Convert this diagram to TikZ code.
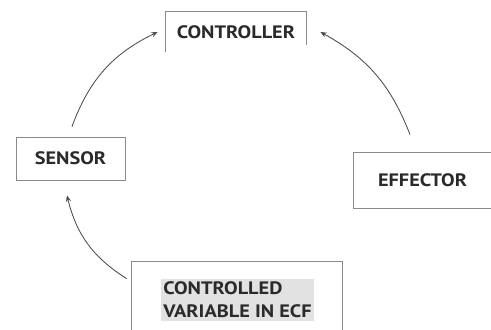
\documentclass[tikz,border=0pt]{standalone}
\usepackage{fontspec}
\setmainfont{PT Sans}[FakeStretch=1.13]
\usetikzlibrary{arrows.meta}
\definecolor{boxgray}{HTML}{8E8888}
\definecolor{txtgray}{HTML}{2A2A2A}
\definecolor{cvshade}{HTML}{E2E2E2}
\tikzset{
  stagebox/.style = {draw=boxgray, line width=0.8pt, text=txtgray, inner sep=0pt,
                     font=\fontsize{18}{23}\selectfont\bfseries},
  boxline/.style  = {boxgray, line width=0.8pt},
  loopln/.style   = {-{Stealth[length=2.2mm,width=1.8mm]}, black!70, line width=0.85pt}
}

\begin{document}
\begin{tikzpicture}[x=1pt,y=-1pt]
  \useasboundingbox (0,0) rectangle (491,330);
  % stages of the loop
  \node[stagebox, draw=none, minimum width=140pt, minimum height=40pt] (ctrl) at (236,32) {CONTROLLER};
  \draw[boxline] (ctrl.south west) -- (ctrl.north west) -- (ctrl.north east)
        -- ([yshift=7pt]ctrl.south east);
  \node[stagebox, minimum width=109pt, minimum height=43pt] (sens) at (70.5,158.5) {SENSOR};
  \node[stagebox, draw=none, text width=112pt, inner xsep=24pt, align=left, minimum height=55pt] (eff)
        at (434,180.5) {EFFECTOR};
  \draw[boxline] (eff.north east) -- (eff.north west) -- (eff.south west) -- (eff.south east);
  \node[stagebox, draw=none, minimum width=210pt, minimum height=96pt] (cv) at (237,310) {};
  \draw[boxline] (cv.south west) -- (cv.north west) -- (cv.north east) -- (cv.south east);
  \node[fill=cvshade, text=txtgray, align=left, inner xsep=2pt, inner ysep=3pt,
        font=\fontsize{18}{23}\selectfont\bfseries] (cvtxt) at (237.5,300)
        {CONTROLLED\\VARIABLE IN ECF};
  % connectors
  \draw[loopln] ([xshift=-5pt,yshift=-17pt]cv.north west) to[bend left=22]
        ([xshift=-3.5pt,yshift=-15pt]sens.south);
  \draw[loopln] ([xshift=1.5pt,yshift=10pt]sens.north) to[bend left=22]
        ([xshift=-8pt]ctrl.west);
  \draw[loopln] ([xshift=-24pt,yshift=18pt]eff.north) to[bend right=20]
        ([xshift=14pt]ctrl.east);
\end{tikzpicture}
\end{document}
